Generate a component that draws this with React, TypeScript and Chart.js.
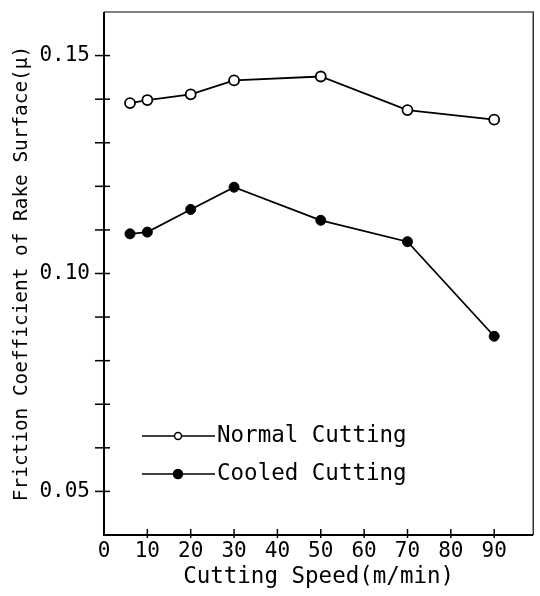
import React, { useEffect, useRef } from 'react';
import { Chart, registerables } from 'chart.js';

Chart.register(...registerables);

const speeds = [6, 10, 20, 30, 50, 70, 90];
const normalCutting = [0.1391, 0.1398, 0.1411, 0.1443, 0.1452, 0.1375, 0.1353];
const cooledCutting = [0.1091, 0.1095, 0.1147, 0.1198, 0.1122, 0.1073, 0.0856];
const seriesNames = ['Normal Cutting', 'Cooled Cutting'];
const xTickValues = [0, 10, 20, 30, 40, 50, 60, 70, 80, 90];
const yLabelEvery = 5; // label every 0.05
const xTitle = 'Cutting Speed(m/min)';
const yTitle = 'Friction Coefficient of Rake Surface(\u03bc)';

const MONO = '"DejaVu Sans Mono", "Liberation Mono", monospace';

const framePlugin = {
  id: 'frameAndLegend',
  afterDraw(chart: any) {
    const { ctx, chartArea, scales } = chart;
    const { left, right, top, bottom } = chartArea;
    ctx.save();
    ctx.strokeStyle = '#000';
    // frame
    ctx.lineWidth = 1.2;
    ctx.beginPath();
    ctx.moveTo(left, top);
    ctx.lineTo(right, top);
    ctx.lineTo(right, bottom);
    ctx.stroke();
    ctx.lineWidth = 2;
    ctx.beginPath();
    ctx.moveTo(left, top);
    ctx.lineTo(left, bottom);
    ctx.lineTo(right, bottom);
    ctx.stroke();
    // y ticks every 0.01
    ctx.lineWidth = 1.5;
    const ys = scales.y;
    for (let i = 5; i <= 15; i++) {
      const p = ys.getPixelForValue(i / 100);
      ctx.beginPath();
      ctx.moveTo(left - 9, p);
      ctx.lineTo(left + 6, p);
      ctx.stroke();
    }
    const xs = scales.x;
    for (const v of xTickValues) {
      if (v === 0) continue;
      const p = xs.getPixelForValue(v);
      ctx.beginPath();
      ctx.moveTo(p, bottom - 6);
      ctx.lineTo(p, bottom + 3);
      ctx.stroke();
    }
    // legend
    const lx0 = left + 38;
    const lx1 = left + 111;
    const mx = left + 74;
    const rows = [bottom - 99, bottom - 61];
    ctx.font = `22.5px ${MONO}`;
    ctx.textBaseline = 'middle';
    ctx.textAlign = 'left';
    ctx.fillStyle = '#000';
    rows.forEach((yy, i) => {
      ctx.lineWidth = 1.3;
      ctx.beginPath();
      ctx.moveTo(lx0, yy);
      ctx.lineTo(lx1, yy);
      ctx.stroke();
      ctx.beginPath();
      ctx.arc(mx, yy, i === 0 ? 3.5 : 4.5, 0, Math.PI * 2);
      ctx.fillStyle = i === 0 ? '#fff' : '#000';
      ctx.fill();
      ctx.lineWidth = 1.5;
      ctx.stroke();
      ctx.fillStyle = '#000';
      ctx.fillText(seriesNames[i], lx1 + 2, yy);
    });
    ctx.restore();
  },
};

const zeroPad = (s: any) => {
  s.paddingTop = 0;
  s.paddingBottom = 0;
  s.paddingLeft = 0;
  s.paddingRight = 0;
};

export default function App() {
  const ref = useRef<HTMLCanvasElement | null>(null);
  useEffect(() => {
    if (!ref.current) return;
    const chart = new Chart(ref.current, {
      type: 'line',
      data: {
        datasets: [
          {
            label: seriesNames[0],
            data: speeds.map((s, i) => ({ x: s, y: normalCutting[i] })),
            borderColor: '#000',
            borderWidth: 1.8,
            pointRadius: 5,
            pointBackgroundColor: '#fff',
            pointBorderColor: '#000',
            pointBorderWidth: 1.8,
          },
          {
            label: seriesNames[1],
            data: speeds.map((s, i) => ({ x: s, y: cooledCutting[i] })),
            borderColor: '#000',
            borderWidth: 1.8,
            pointRadius: 5,
            pointBackgroundColor: '#000',
            pointBorderColor: '#000',
            pointBorderWidth: 1,
          },
        ],
      },
      options: {
        responsive: false,
        maintainAspectRatio: false,
        animation: false,
        layout: { padding: { top: 12, right: 2, left: 0, bottom: 0 } },
        plugins: { legend: { display: false }, tooltip: { enabled: false } },
        scales: {
          x: {
            type: 'linear',
            min: 0,
            max: 99,
            grid: { display: false, drawTicks: false },
            border: { display: false },
            afterFit: (s: any) => { s.height = 61; zeroPad(s); },
            afterBuildTicks: (s: any) => {
              s.ticks = xTickValues.map((v) => ({ value: v }));
            },
            ticks: {
              color: '#000',
              font: { family: MONO, size: 21 },
              padding: 4,
              maxRotation: 0,
              autoSkip: false,
              callback: (v: any) => String(v),
            },
            title: {
              display: true,
              text: xTitle,
              color: '#000',
              font: { family: MONO, size: 22.5 },
              padding: { top: 0, bottom: 5 },
            },
          },
          y: {
            type: 'linear',
            min: 0.04,
            max: 0.16,
            grid: { display: false, drawTicks: false },
            border: { display: false },
            afterFit: (s: any) => { s.width = 104; zeroPad(s); },
            ticks: {
              stepSize: 0.01,
              color: '#000',
              font: { family: MONO, size: 21 },
              padding: 14,
              autoSkip: false,
              callback: (v: any) => {
                const k = Math.round(Number(v) * 100);
                return k % yLabelEvery === 0 && k > 4 && k < 16 ? (k / 100).toFixed(2) : '';
              },
            },
            title: {
              display: true,
              text: yTitle,
              color: '#000',
              font: { family: MONO, size: 19.4 },
              padding: { top: 10, bottom: 0 },
            },
          },
        },
      },
      plugins: [framePlugin],
    });
    return () => chart.destroy();
  }, []);
  return (
    <div style={{ position: 'absolute', left: 0, top: 0, width: 540, height: 596, background: '#fff' }}>
      <canvas ref={ref} width={540} height={596} />
    </div>
  );
}
